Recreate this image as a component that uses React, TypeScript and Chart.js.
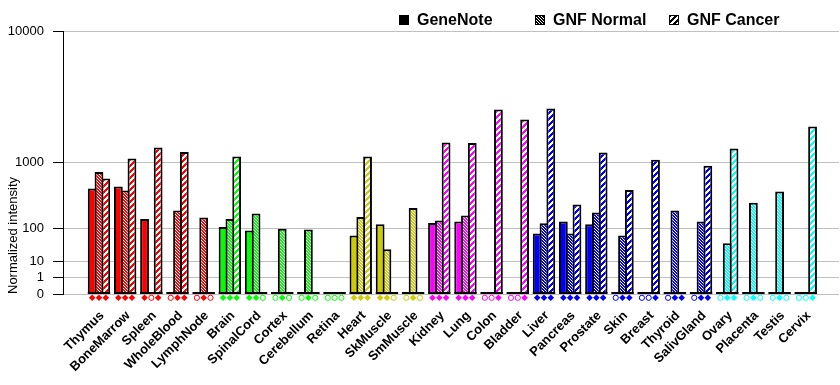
import React, { useEffect, useRef } from 'react';
import { Chart, registerables, LinearScale } from 'chart.js';

const CATEGORIES = ['Thymus', 'BoneMarrow', 'Spleen', 'WholeBlood', 'LymphNode', 'Brain', 'SpinalCord', 'Cortex', 'Cerebellum', 'Retina', 'Heart', 'SkMuscle', 'SmMuscle', 'Kidney', 'Lung', 'Colon', 'Bladder', 'Liver', 'Pancreas', 'Prostate', 'Skin', 'Breast', 'Thyroid', 'SalivGland', 'Ovary', 'Placenta', 'Testis', 'Cervix'];

const SERIES_NAMES = ['GeneNote', 'GNF Normal', 'GNF Cancer'];

const GENENOTE = [481, 513, 155, 0, 0, 106, 89, 0, 0, 0, 68, 121, 0, 129, 139, 0, 0, 76, 139, 121, 0, 0, 0, 0, 0, 0, 0, 0];
const GNF_NORMAL = [778, 452, 0, 221, 166, 155, 196, 97, 94, 0, 169, 28, 244, 145, 181, 0, 0, 127, 76, 205, 68, 0, 221, 139, 42, 297, 438, 0];
const GNF_CANCER = [650, 1105, 1431, 1288, 0, 1160, 0, 0, 0, 0, 1160, 0, 0, 1600, 1579, 3076, 2557, 3131, 279, 1276, 458, 1070, 0, 919, 1399, 0, 0, 2232];

// present (1) / absent (0) calls shown as diamonds under each bar
const GENENOTE_CALLS = [1, 1, 1, 0, 0, 1, 1, 0, 0, 0, 1, 1, 0, 1, 1, 0, 0, 1, 1, 1, 0, 0, 0, 0, 0, 0, 0, 0];
const GNF_NORMAL_CALLS = [1, 1, 0, 1, 1, 1, 1, 1, 1, 0, 1, 1, 1, 1, 1, 0, 0, 1, 1, 1, 1, 0, 1, 1, 1, 1, 1, 0];
const GNF_CANCER_CALLS = [1, 1, 1, 1, 0, 1, 0, 0, 0, 0, 1, 0, 0, 1, 1, 1, 1, 1, 1, 1, 1, 1, 1, 1, 1, 0, 0, 1];

const RED = '#ff0000';
const GREEN = '#00ff00';
const OLIVE = '#cccc00';
const MAGENTA = '#ff00ff';
const BLUE = '#0000ff';
const CYAN = '#00ffff';
const TISSUE_COLORS = [
  RED, RED, RED, RED, RED,
  GREEN, GREEN, GREEN, GREEN, GREEN,
  OLIVE, OLIVE, OLIVE,
  MAGENTA, MAGENTA, MAGENTA, MAGENTA,
  BLUE, BLUE, BLUE, BLUE, BLUE, BLUE, BLUE,
  CYAN, CYAN, CYAN, CYAN,
];

const Y_TICKS = [0, 1, 10, 100, 1000, 10000];
const Y_MAX = 10000;
// each decade doubles the bar height
const EXPONENT = Math.log10(2);

const FONT_FAMILY = '"Liberation Sans", Arial, sans-serif';
const LEGEND_X = [399, 535, 669];

class PowerScale extends LinearScale {
  static id = 'power';
  static defaults = LinearScale.defaults;
  getPixelForValue(value: any) {
    const v = Math.max(0, Number(value) || 0);
    return this.getPixelForDecimal(Math.pow(v / this.max, EXPONENT));
  }
  getValueForPixel(pixel: number) {
    return this.max * Math.pow(this.getDecimalForPixel(pixel), 1 / EXPONENT);
  }
}

Chart.register(...registerables, PowerScale);

function makePattern(ctx: CanvasRenderingContext2D, color: string, kind: string) {
  const n = kind === 'normal' ? 3 : 6;
  const c = document.createElement('canvas');
  c.width = n;
  c.height = n;
  const g = c.getContext('2d')!;
  g.fillStyle = color;
  g.fillRect(0, 0, n, n);
  g.fillStyle = '#ffffff';
  for (let y = 0; y < n; y++) {
    for (let x = 0; x < n; x++) {
      const white = kind === 'normal' ? (x - y + n) % n === 0 : (x + y) % n >= 3;
      if (white) g.fillRect(x, y, 1, 1);
    }
  }
  return ctx.createPattern(c, 'repeat');
}

export default function App() {
  const ref = useRef<HTMLCanvasElement>(null);

  useEffect(() => {
    const canvas = ref.current!;
    const ctx2d = canvas.getContext('2d')!;
    const cache = new Map<string, any>();
    const pattern = (color: string, kind: string) => {
      const key = color + kind;
      if (!cache.has(key)) cache.set(key, makePattern(ctx2d, color, kind));
      return cache.get(key);
    };
    const callsBySeries = [GENENOTE_CALLS, GNF_NORMAL_CALLS, GNF_CANCER_CALLS];

    const marksPlugin = {
      id: 'marks',
      afterDatasetsDraw(chart: any) {
        const ctx = chart.ctx;
        const y0 = chart.scales.y.getPixelForValue(0);
        const metas = [0, 1, 2].map((i) => chart.getDatasetMeta(i));
        ctx.save();
        ctx.fillStyle = '#000';
        CATEGORIES.forEach((_, j) => {
          const a = metas[0].data[j];
          const b = metas[2].data[j];
          const left = a.x - a.width / 2;
          const right = b.x + b.width / 2;
          ctx.fillRect(left, y0 - 2, right - left, 2);
        });
        metas.forEach((m, i) => {
          m.data.forEach((el: any, j: number) => {
            const x = el.x;
            const y = y0 + 3.8;
            const color = TISSUE_COLORS[j];
            if (callsBySeries[i][j]) {
              const r = 3.3;
              ctx.beginPath();
              ctx.moveTo(x, y - r);
              ctx.lineTo(x + r, y);
              ctx.lineTo(x, y + r);
              ctx.lineTo(x - r, y);
              ctx.closePath();
              ctx.fillStyle = color;
              ctx.fill();
            } else {
              ctx.beginPath();
              ctx.arc(x, y, 2.6, 0, Math.PI * 2);
              ctx.fillStyle = '#fff';
              ctx.fill();
              ctx.strokeStyle = color;
              ctx.lineWidth = 1;
              ctx.stroke();
            }
          });
        });
        ctx.restore();
      },
    };

    const legendPlugin = {
      id: 'fixedLegend',
      afterDraw(chart: any) {
        const ctx = chart.ctx;
        ctx.save();
        ctx.font = 'bold 16px ' + FONT_FAMILY;
        ctx.textBaseline = 'middle';
        SERIES_NAMES.forEach((name, i) => {
          const x = LEGEND_X[i];
          const y = 20;
          if (i === 0) {
            ctx.fillStyle = '#000';
            ctx.fillRect(x, y - 5, 10, 10);
          } else {
            ctx.fillStyle = pattern('#000000', i === 1 ? 'normal' : 'cancer');
            ctx.fillRect(x, y - 5, 10, 10);
            ctx.strokeStyle = '#000';
            ctx.lineWidth = 1;
            ctx.strokeRect(x + 0.5, y - 4.5, 9, 9);
          }
          ctx.fillStyle = '#000';
          ctx.fillText(name, x + 18, y + 1);
        });
        ctx.restore();
      },
    };

    const common = {
      borderColor: '#000',
      borderWidth: 2,
      borderSkipped: 'bottom',
      categoryPercentage: 0.779,
      barPercentage: 1.294,
    };

    const chart = new Chart(canvas, {
      type: 'bar',
      data: {
        datasets: [
          {
            ...common,
            label: SERIES_NAMES[0],
            data: GENENOTE.map((v, i) => ({ x: i, y: v })),
            backgroundColor: (c: any) => TISSUE_COLORS[c.dataIndex] || '#000',
          },
          {
            ...common,
            label: SERIES_NAMES[1],
            data: GNF_NORMAL.map((v, i) => ({ x: i, y: v })),
            backgroundColor: (c: any) => pattern(TISSUE_COLORS[c.dataIndex] || '#000000', 'normal'),
          },
          {
            ...common,
            label: SERIES_NAMES[2],
            data: GNF_CANCER.map((v, i) => ({ x: i, y: v })),
            backgroundColor: (c: any) => pattern(TISSUE_COLORS[c.dataIndex] || '#000000', 'cancer'),
          },
        ],
      } as any,
      options: {
        responsive: false,
        animation: false,
        events: [],
        layout: { padding: { top: 31, right: 1, left: 0, bottom: 0 } },
        plugins: { legend: { display: false }, tooltip: { enabled: false } },
        scales: {
          x: {
            type: 'linear',
            offset: false,
            bounds: 'data',
            min: -1.375,
            max: 28.27,
            grid: { display: false, drawTicks: false, offset: false },
            border: { display: false },
            afterBuildTicks: (scale: any) => {
              scale.ticks = CATEGORIES.map((_, i) => ({ value: i }));
            },
            afterFit: (scale: any) => {
              scale.height = 91;
            },
            ticks: {
              autoSkip: false,
              maxRotation: 45,
              minRotation: 45,
              padding: 14,
              labelOffset: 3,
              color: '#000',
              font: { family: FONT_FAMILY, size: 13, weight: 'bold' },
              callback: (v: any) => CATEGORIES[v] ?? '',
            },
          },
          y: {
            type: 'power',
            min: 0,
            max: Y_MAX,
            bounds: 'data',
            afterBuildTicks: (scale: any) => {
              scale.ticks = Y_TICKS.map((v) => ({ value: v }));
            },
            afterFit: (scale: any) => {
              scale.width = 63;
            },
            grid: { color: '#c0c0c0', tickColor: '#000', tickLength: 10, lineWidth: 1 },
            border: { display: true, color: '#000', width: 1 },
            ticks: {
              padding: 9,
              color: '#000',
              font: { family: FONT_FAMILY, size: 13 },
              callback: (v: any) => String(v),
            },
            title: {
              display: true,
              text: 'Normalized intensity',
              align: 'start',
              color: '#000',
              font: { family: FONT_FAMILY, size: 13 },
              padding: { top: 6, bottom: 0 },
            },
          },
        },
      } as any,
      plugins: [marksPlugin, legendPlugin],
    });
    return () => chart.destroy();
  }, []);

  return (
    <div style={{ position: 'absolute', left: 0, top: 0, width: 840, height: 385 }}>
      <canvas ref={ref} width={840} height={385} style={{ display: 'block' }} />
    </div>
  );
}
